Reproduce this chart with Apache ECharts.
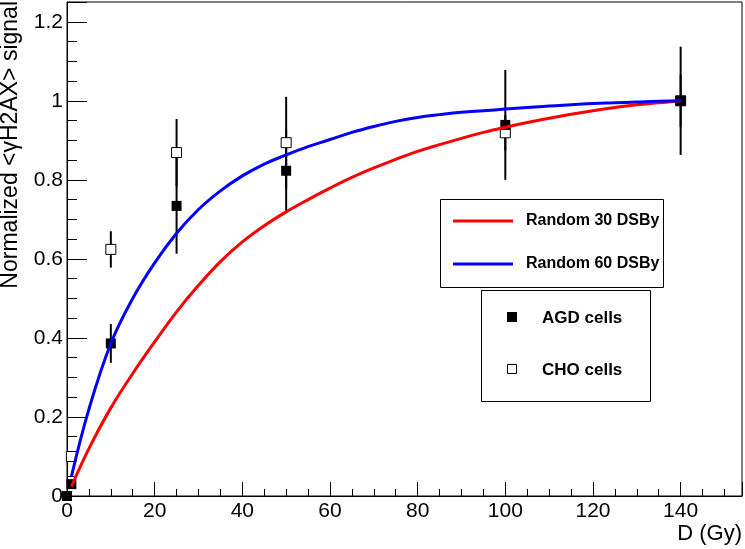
<!DOCTYPE html>
<html>
<head>
<meta charset="utf-8">
<script src="https://cdn.jsdelivr.net/npm/echarts@6/dist/echarts.min.js"></script>
<style>
html,body{margin:0;padding:0;background:#fff;}
#chart{width:745px;height:549px;}
</style>
</head>
<body>
<div id="chart"></div>
<script>
// ---- data ----
const curveDose = [1, 5, 10, 15, 20, 25, 30, 35, 40, 45, 50, 55, 60, 65, 70, 75, 80, 85, 90, 95, 100, 105, 110, 115, 120, 125, 130, 135, 140];
const random30 = [0.024, 0.12, 0.223, 0.31, 0.39, 0.466, 0.533, 0.593, 0.643, 0.684, 0.719, 0.75, 0.779, 0.806, 0.83, 0.852, 0.872, 0.889, 0.905, 0.92, 0.933, 0.945, 0.956, 0.966, 0.975, 0.983, 0.99, 0.995, 1.0];
const random60 = [0.049, 0.22, 0.386, 0.5, 0.59, 0.665, 0.725, 0.772, 0.81, 0.84, 0.863, 0.884, 0.902, 0.92, 0.935, 0.948, 0.958, 0.965, 0.971, 0.975, 0.979, 0.983, 0.987, 0.99, 0.993, 0.995, 0.997, 0.999, 1.0];

const agdDose = [0, 1, 10, 25, 50, 100, 140];
const agdSignal = [0, 0.03, 0.386, 0.734, 0.823, 0.939, 1.0];
const agdErr = [0, 0, 0.049, 0.121, 0.104, 0.139, 0.137];

const choDose = [1, 10, 25, 50, 100, 140];
const choSignal = [0.1, 0.624, 0.869, 0.894, 0.919, 1.0];
const choErr = [0, 0.046, 0.085, 0.116, 0.045, 0.066];

const xTickLabels = ['0', '20', '40', '60', '80', '100', '120', '140'];
const yTickLabels = ['0', '0.2', '0.4', '0.6', '0.8', '1', '1.2'];

const legendCurves = ['Random 30 DSBy', 'Random 60 DSBy'];
const legendPoints = ['AGD cells', 'CHO cells'];
const xTitle = 'D (Gy)';
const yTitle = 'Normalized <\u03B3H2AX> signal';

// ---- chart ----
const FONT = '"Liberation Sans", Arial, Helvetica, sans-serif';
const chart = echarts.init(document.getElementById('chart'), null, {renderer: 'canvas'});

function errData(dose, val, err) {
  const out = [];
  dose.forEach((d, i) => { if (err[i] > 0) out.push([d, val[i] - err[i], val[i] + err[i]]); });
  return out;
}

const errRender = (params, api) => {
  const p1 = api.coord([api.value(0), api.value(1)]);
  const p2 = api.coord([api.value(0), api.value(2)]);
  return {type: 'line', shape: {x1: p1[0], y1: p1[1], x2: p2[0], y2: p2[1]},
          style: {stroke: '#000', lineWidth: 2}};
};

const xLabelFmt = v => { const s = String(Math.round(v)); return (Math.abs(v % 20) < 1e-6 && xTickLabels.includes(s)) ? s : ''; };
const yLabelFmt = v => { const r = Math.round(v * 100) / 100; const s = String(r); return (Math.round(r * 100) % 20 === 0 && yTickLabels.includes(s)) ? s : ''; };

const option = {
  backgroundColor: '#fff',
  animation: false,
  grid: {left: 67, right: 3, top: 2, bottom: 53, show: true, borderColor: '#000', borderWidth: 1,
         containLabel: false, outerBoundsMode: 'none'},
  xAxis: [
    {type: 'value', min: 0, max: 154, interval: 20, position: 'bottom',
     axisLine: {show: true, lineStyle: {color: '#000', width: 1}},
     axisTick: {show: true, inside: true, length: 14, lineStyle: {color: '#000', width: 1}},
     axisLabel: {formatter: xLabelFmt, fontSize: 21, color: '#000', fontFamily: FONT, margin: 5},
     splitLine: {show: false}},
    {type: 'value', min: 0, max: 154, interval: 5, position: 'bottom',
     axisLine: {show: false},
     axisTick: {show: true, inside: true, length: 7, lineStyle: {color: '#000', width: 1}},
     axisLabel: {show: false}, splitLine: {show: false}}
  ],
  yAxis: [
    {type: 'value', min: 0, max: 1.25, interval: 0.2, position: 'left',
     axisLine: {show: true, lineStyle: {color: '#000', width: 1}},
     axisTick: {show: true, inside: true, length: 20, lineStyle: {color: '#000', width: 1}},
     axisLabel: {formatter: yLabelFmt, fontSize: 21, color: '#000', fontFamily: FONT, margin: 4},
     splitLine: {show: false}},
    {type: 'value', min: 0, max: 1.25, interval: 0.05, position: 'left',
     axisLine: {show: false},
     axisTick: {show: true, inside: true, length: 10, lineStyle: {color: '#000', width: 1}},
     axisLabel: {show: false}, splitLine: {show: false}}
  ],
  series: [
    {name: 'AGD err', type: 'custom', renderItem: errRender, encode: {x: 0, y: [1, 2]},
     data: errData(agdDose, agdSignal, agdErr), z: 2, clip: false, silent: true},
    {name: 'CHO err', type: 'custom', renderItem: errRender, encode: {x: 0, y: [1, 2]},
     data: errData(choDose, choSignal, choErr), z: 2, clip: false, silent: true},
    {name: legendPoints[1], type: 'scatter', symbol: 'rect', symbolSize: 10, clip: false, z: 3,
     itemStyle: {color: '#fff', borderColor: '#000', borderWidth: 1, opacity: 1},
     data: choDose.map((d, i) => [d, choSignal[i]])},
    {name: legendPoints[0], type: 'scatter', symbol: 'rect', symbolSize: 10, clip: false, z: 3,
     itemStyle: {color: '#000', opacity: 1},
     data: agdDose.map((d, i) => [d, agdSignal[i]])},
    {name: legendCurves[0], type: 'line', smooth: 0.4, showSymbol: false, z: 4,
     lineStyle: {color: '#ff0000', width: 3}, itemStyle: {color: '#ff0000'},
     data: curveDose.map((d, i) => [d, random30[i]])},
    {name: legendCurves[1], type: 'line', smooth: 0.4, showSymbol: false, z: 4,
     lineStyle: {color: '#0000ff', width: 3}, itemStyle: {color: '#0000ff'},
     data: curveDose.map((d, i) => [d, random60[i]])}
  ],
  graphic: [
    {type: 'text', x: 742, y: 534, z: 100,
     style: {text: xTitle, font: '22px ' + FONT, fill: '#000', align: 'right', verticalAlign: 'middle'}},
    {type: 'text', x: 11, y: 1, rotation: Math.PI / 2, z: 100,
     style: {text: yTitle, font: '23px ' + FONT, fill: '#000', align: 'right', verticalAlign: 'middle'}},
    // legend box 1
    {type: 'rect', z: 100, shape: {x: 440.5, y: 199.5, width: 223, height: 88},
     style: {fill: '#fff', stroke: '#000', lineWidth: 1}},
    {type: 'line', z: 101, shape: {x1: 453, y1: 221, x2: 513, y2: 221}, style: {stroke: '#ff0000', lineWidth: 3}},
    {type: 'text', z: 101, x: 526, y: 221,
     style: {text: legendCurves[0], font: 'bold 16px ' + FONT, fill: '#000', verticalAlign: 'middle'}},
    {type: 'line', z: 101, shape: {x1: 453, y1: 264, x2: 513, y2: 264}, style: {stroke: '#0000ff', lineWidth: 3}},
    {type: 'text', z: 101, x: 526, y: 264,
     style: {text: legendCurves[1], font: 'bold 16px ' + FONT, fill: '#000', verticalAlign: 'middle'}},
    // legend box 2
    {type: 'rect', z: 100, shape: {x: 481.5, y: 290.5, width: 169, height: 111},
     style: {fill: '#fff', stroke: '#000', lineWidth: 1}},
    {type: 'rect', z: 101, shape: {x: 507, y: 312, width: 10, height: 10}, style: {fill: '#000'}},
    {type: 'text', z: 101, x: 542, y: 318,
     style: {text: legendPoints[0], font: 'bold 17px ' + FONT, fill: '#000', verticalAlign: 'middle'}},
    {type: 'rect', z: 101, shape: {x: 507.5, y: 364.5, width: 9, height: 9}, style: {fill: '#fff', stroke: '#000', lineWidth: 1}},
    {type: 'text', z: 101, x: 542, y: 370,
     style: {text: legendPoints[1], font: 'bold 17px ' + FONT, fill: '#000', verticalAlign: 'middle'}}
  ]
};
chart.setOption(option);
</script>
</body>
</html>
